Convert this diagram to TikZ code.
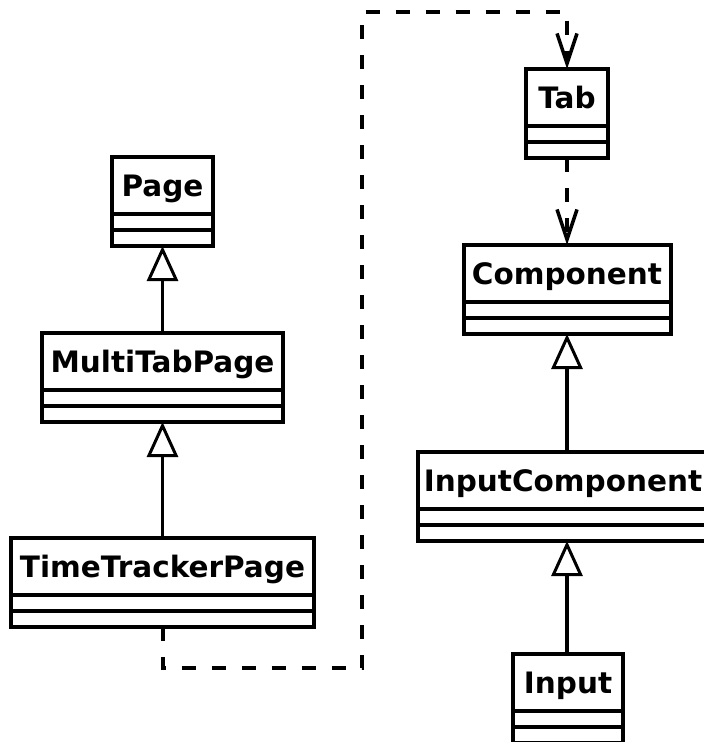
\documentclass[tikz,border=0pt]{standalone}
\usepackage{fontspec}
\setmainfont{DejaVu Sans}
\usetikzlibrary{arrows.meta,calc}
\tikzset{
  clsbox/.style={draw=black, line width=4pt, inner sep=0pt, outer sep=0pt, minimum height=89pt, fill=white},
  clsname/.style={anchor=base, inner sep=0pt, font=\bfseries\fontsize{29.5}{35}\selectfont},
  clsline/.style={line width=4pt},
  inherit/.style={line width=3.5pt, -{Triangle[open, length=35pt, width=31pt, line width=3pt]}},
  depend/.style={line width=4pt, dash pattern=on 14pt off 16pt, -{Straight Barb[length=30pt, width=20pt, line width=3.5pt]}}
}
% name, centre x, top y, width, text, text x shift
\newcommand\umlcls[6][0]{%
  \node[clsbox, minimum width=#5pt] (#2) at (#3,#4+44.5) {};
  \node[clsname] (#2-name) at (#3+#1,#4+39.5) {#6};
  \draw[clsline] ($(#2.north west)+(0,57)$) -- ($(#2.north east)+(0,57)$);
  \draw[clsline] ($(#2.north west)+(0,73)$) -- ($(#2.north east)+(0,73)$);
}
\begin{document}
\begin{tikzpicture}[x=1pt,y=-1pt]
\useasboundingbox (0,0) rectangle (704,742);
\clip (0,0) rectangle (704,742);
\fill[white] (0,0) rectangle (704,742);
% left column
\umlcls{page}{162.5}{157}{101}{Page}
\umlcls{mtp}{162.5}{333}{241}{MultiTabPage}
\umlcls{ttp}{162.5}{538}{303}{TimeTrackerPage}
% right column
\umlcls{tab}{567}{69}{82}{Tab}
\umlcls{comp}{567}{245}{207}{Component}
\umlcls[-4]{ic}{567}{452}{298}{InputComponent}
\umlcls{inp}{568}{654}{110}{Input}
% inheritance
\draw[inherit] (mtp.north) -- (page.south);
\draw[inherit] (ttp.north) -- (mtp.south);
\draw[inherit] (ic.north) -- (comp.south);
\draw[inherit] (inp.north -| ic.south) -- (ic.south);
% dependencies
\coordinate (c1) at (362,668);
\coordinate (c2) at (567,12);
\draw[depend] (ttp.south) |- (c1) |- (c2) -- (tab.north);
\draw[depend] (tab.south) -- (comp.north);
\end{tikzpicture}
\end{document}
